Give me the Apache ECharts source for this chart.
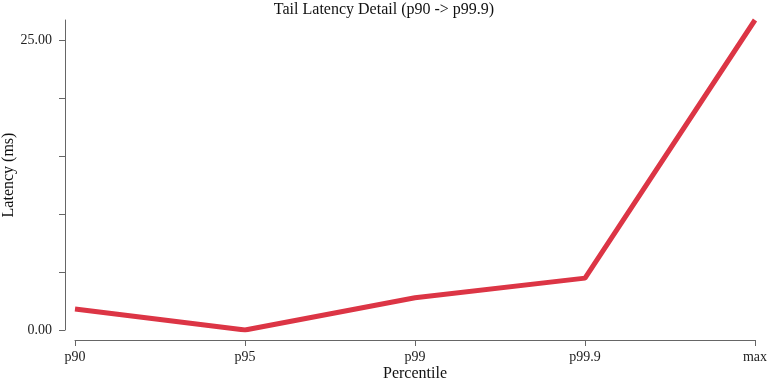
<!DOCTYPE html>
<html>
<head>
<meta charset="utf-8">
<script src="https://cdn.jsdelivr.net/npm/echarts@6/dist/echarts.min.js"></script>
<style>
  html, body { margin: 0; padding: 0; background: #fff; }
  #chart { width: 768px; height: 384px; }
</style>
</head>
<body>
<div id="chart"></div>
<script>
var percentiles = ['p90', 'p95', 'p99', 'p99.9', 'max'];
var latencyMs = [1.81, 0.0, 2.78, 4.47, 26.72];
var yTickLabels = ['0.00', '25.00'];

var chart = echarts.init(document.getElementById('chart'));
var font = '"Liberation Serif", "DejaVu Serif", serif';
var axisGrey = '#666';

var option = {
    animation: false,
    textStyle: { fontFamily: font },
    title: {
        text: 'Tail Latency Detail (p90 -> p99.9)',
        left: 'center',
        top: -3,
        textStyle: { fontFamily: font, fontSize: 16, fontWeight: 'normal', color: '#111' }
    },
    grid: { left: 75, right: 13, top: 20, bottom: 54, containLabel: false, outerBoundsMode: 'none' },
    xAxis: {
        type: 'category',
        data: percentiles,
        boundaryGap: false,
        offset: 10,
        name: 'Percentile',
        nameLocation: 'middle',
        nameGap: 26,
        nameMoveOverlap: false,
        nameTextStyle: { fontFamily: font, fontSize: 16, color: '#111' },
        axisLine: { onZero: false, lineStyle: { color: axisGrey } },
        axisTick: { alignWithLabel: true, length: 6, lineStyle: { color: axisGrey } },
        axisLabel: { fontFamily: font, fontSize: 14, color: '#222', margin: 10 },
        splitLine: { show: false }
    },
    yAxis: {
        type: 'value',
        min: 0,
        max: Math.max.apply(null, latencyMs),
        interval: 5,
        offset: 10,
        name: 'Latency (ms)',
        nameLocation: 'middle',
        nameGap: 48,
        nameMoveOverlap: false,
        nameTextStyle: { fontFamily: font, fontSize: 16, color: '#111' },
        axisLine: { show: true, onZero: false, lineStyle: { color: axisGrey } },
        axisTick: { show: true, length: 6, lineStyle: { color: axisGrey } },
        axisLabel: {
            fontFamily: font, fontSize: 14, color: '#222', margin: 13,
            showMaxLabel: false,
            formatter: function (v) {
                var s = v.toFixed(2);
                return yTickLabels.indexOf(s) >= 0 ? s : '';
            }
        },
        splitLine: { show: false }
    },
    series: [{
        name: 'Latency',
        type: 'line',
        data: latencyMs,
        showSymbol: false,
        symbol: 'none',
        lineStyle: { color: '#dc3545', width: 5 },
        itemStyle: { color: '#dc3545' }
    }]
};

chart.setOption(option);
</script>
</body>
</html>
